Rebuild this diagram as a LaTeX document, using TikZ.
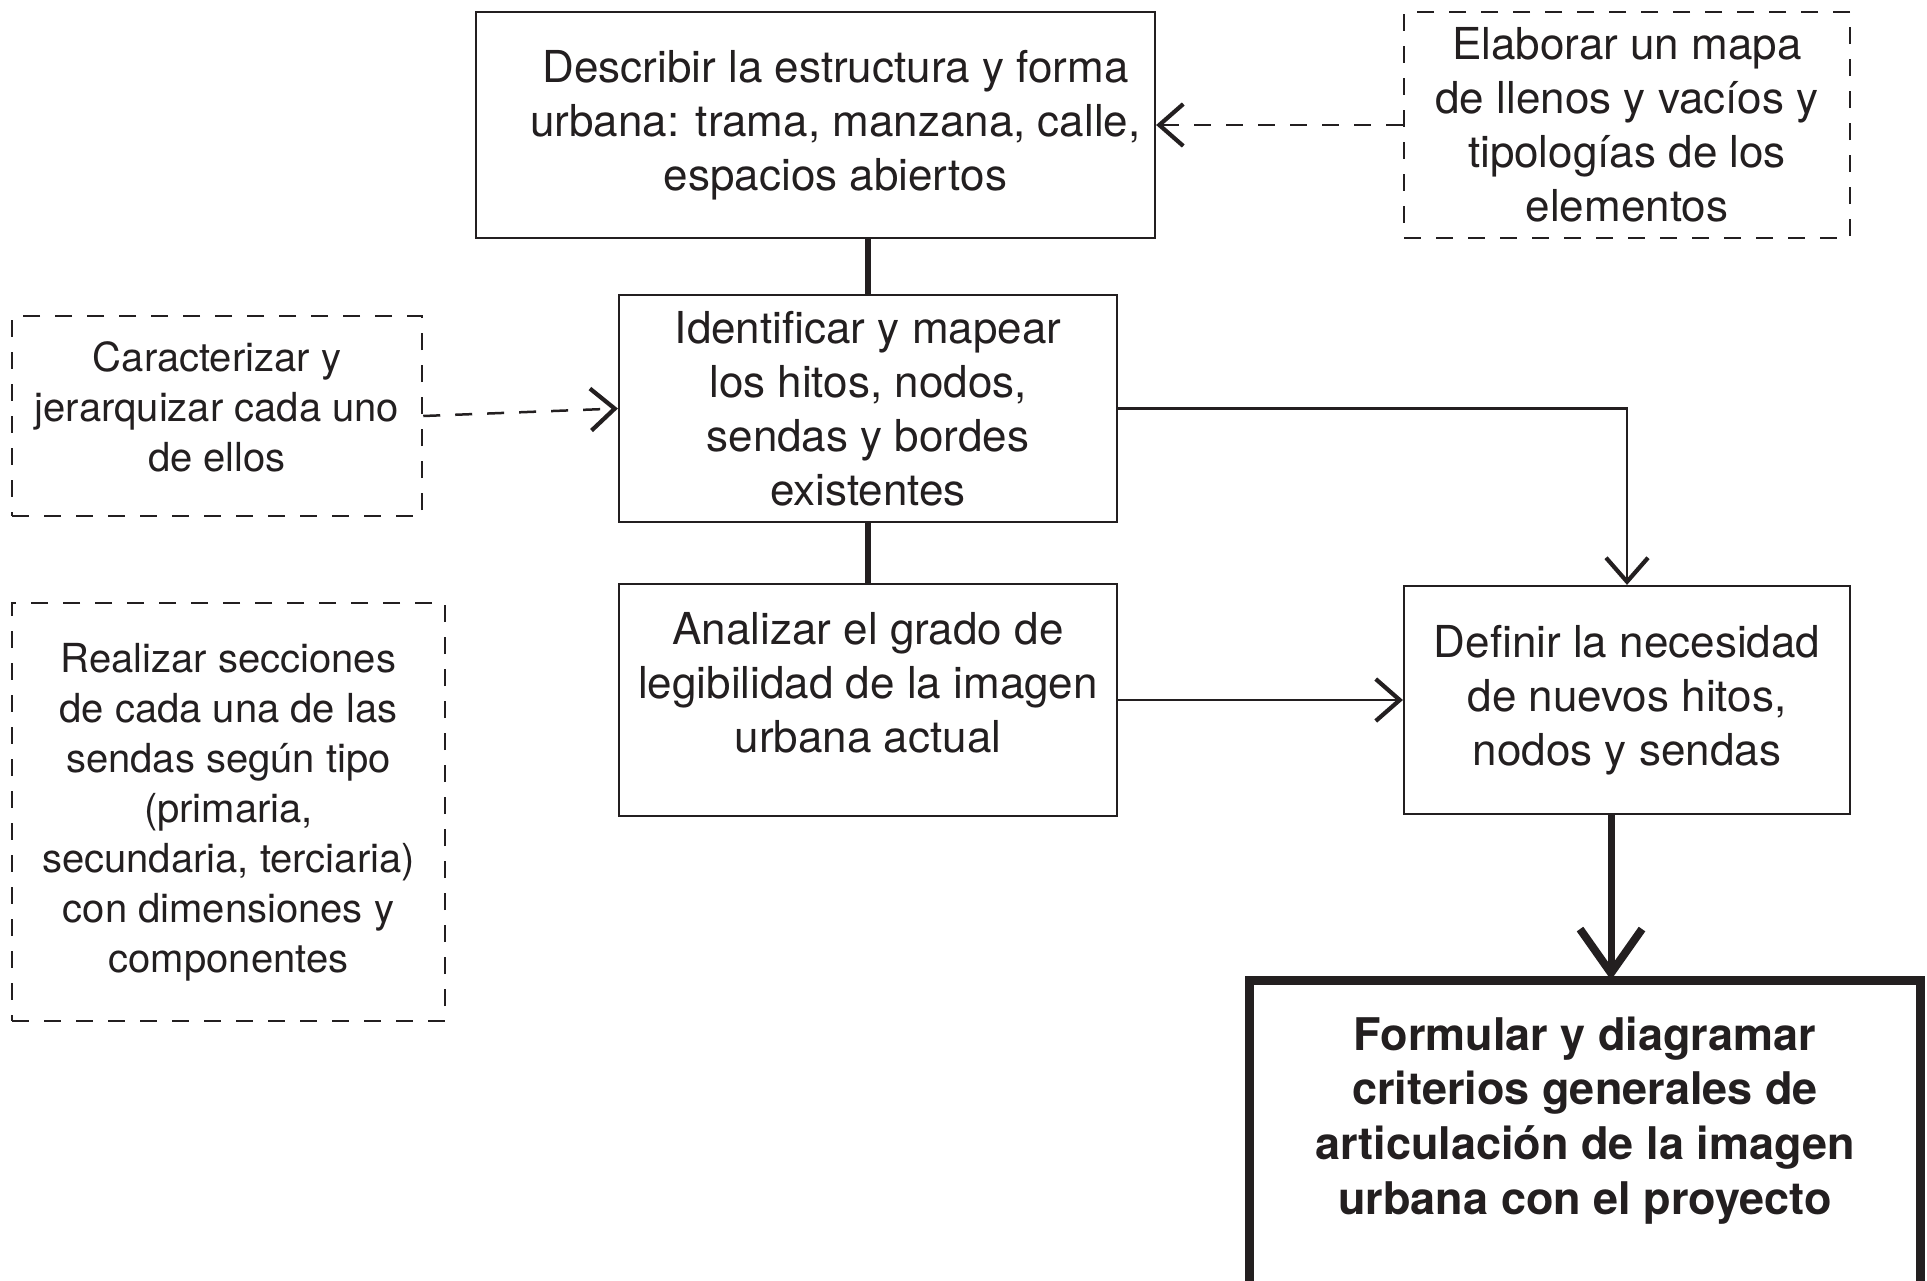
\documentclass[tikz,border=0pt]{standalone}
\usepackage{fontspec}
\setmainfont{TeX Gyre Heros}
\usetikzlibrary{arrows.meta}
\definecolor{ink}{HTML}{231F20}
\begin{document}
\begin{tikzpicture}[x=0.5pt,y=-0.5pt,
  box/.style={draw=ink, line width=1.1pt, text=ink, align=center, inner sep=0pt,
    font=\fontsize{22}{27}\selectfont},
  txt/.style={text=ink, align=center, inner sep=0pt, font=\fontsize{22}{27}\selectfont},
  dbox/.style={draw=ink, line width=1.25pt, dash pattern=on 8.5pt off 7.5pt, text=ink,
    align=center, inner sep=0pt, font=\fontsize{20}{25}\selectfont},
  link/.style={draw=ink, line width=3pt},
  arr/.style={draw=ink, line width=1.1pt, -{Straight Barb[length=12pt,width=21pt,line width=2.1pt]}},
  darr/.style={arr, line width=1.25pt, dash pattern=on 8.5pt off 7.5pt},
  bigarr/.style={draw=ink, line width=3.5pt, -{Straight Barb[length=22pt,width=31pt,line width=4pt]}},
  heavy/.style={draw=ink, line width=4.5pt}
]
\useasboundingbox (0,0) rectangle (1927,1280);

\node[box, minimum width=339.5pt, minimum height=113pt] (A) at (815.5,125) {};
\node[txt] (At) at ([xshift=10pt]A.center)
  {Describir la estructura y forma\\urbana: trama, manzana, calle,\\espacios abiertos};
\node[dbox, minimum width=223pt, minimum height=113pt, font=\fontsize{22}{27}\selectfont] (E) at (1627,125)
  {Elaborar un mapa\\de llenos y vacíos y\\tipologías de los\\elementos};
\node[box, minimum width=249pt, minimum height=113.5pt] (B) at (868,408.5)
  {Identificar y mapear\\los hitos, nodos,\\sendas y bordes\\existentes};
\node[dbox, minimum width=205pt, minimum height=100pt] (C) at (217,416) {};
\node[txt, font=\fontsize{20}{25}\selectfont] (Ct) at ([yshift=4.5pt]C.center)
  {Caracterizar y\\jerarquizar cada uno\\de ellos};
\node[dbox, minimum width=216.5pt, minimum height=209pt] (D) at (228.5,812)
  {Realizar secciones\\de cada una de las\\sendas según tipo\\(primaria,\\secundaria, terciaria)\\con dimensiones y\\componentes};
\node[box, minimum width=249pt, minimum height=116pt] (F) at (868,700) {};
\node[txt] (Ft) at ([yshift=8.5pt]F.center)
  {Analizar el grado de\\legibilidad de la imagen\\urbana actual};
\node[box, minimum width=223pt, minimum height=114pt] (G) at (1627,700)
  {Definir la necesidad\\de nuevos hitos,\\nodos y sendas};
\node[anchor=north, minimum width=335pt, minimum height=140pt, inner sep=0pt, align=center,
  text=ink, font=\fontsize{22.5}{27.3}\selectfont\bfseries] (H) at (1585,980)
  {Formular y diagramar\\criterios generales de\\articulación de la imagen\\urbana con el proyecto};
\draw[heavy] ([yshift=-30pt]H.south west) |- (H.north east) -- ([yshift=-30pt]H.south east);

\coordinate (Hx) at (1611,0);

\draw[link] (A.south -| B.north) -- (B.north);
\draw[link] (B.south) -- (F.north);
\draw[darr] (E.west) -- (A.east);
\draw[darr] (C.east) -- (B.west);
\draw[arr] (B.east) -| (G.north);
\draw[arr] (F.east) -- (G.west);
\draw[bigarr] (G.south -| Hx) -- (H.north -| Hx);
\end{tikzpicture}
\end{document}
